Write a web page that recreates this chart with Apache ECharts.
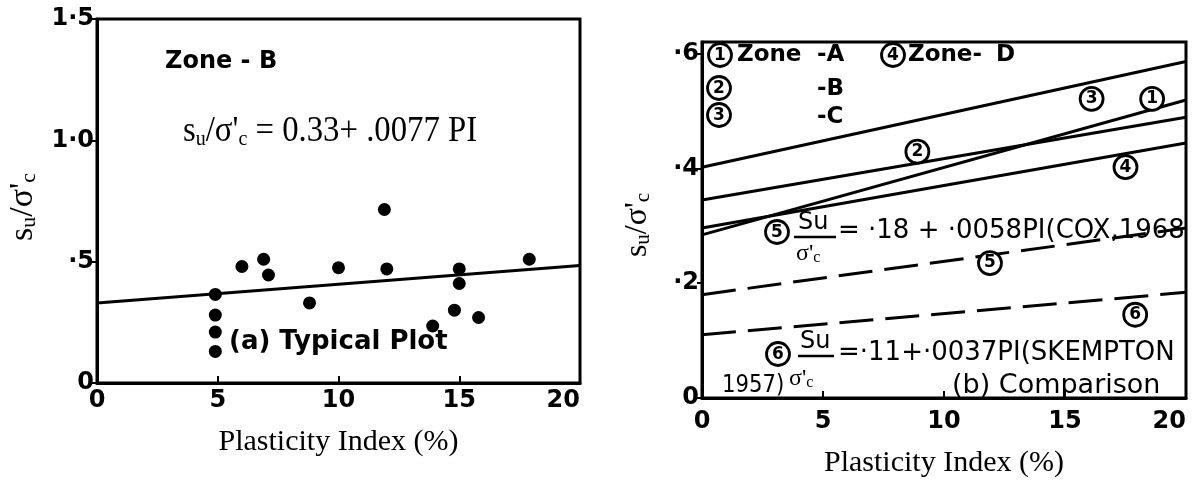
<!DOCTYPE html>
<html>
<head>
<meta charset="utf-8">
<script src="https://cdn.jsdelivr.net/npm/echarts@6/dist/echarts.min.js"></script>
<style>
  html, body { margin: 0; padding: 0; background: #fff; }
  #c { width: 1195px; height: 490px; }
</style>
</head>
<body>
<div id="c"></div>
<script>
// (a) Zone-B field data: plasticity index (%) and su/σ'c
const zoneB_PI = [4.9, 4.9, 4.9, 4.9, 6.0, 6.9, 7.1, 8.8, 10.0, 12.0, 11.9, 15.0, 15.0, 14.8, 13.9, 15.8, 17.9];
const zoneB_su = [0.365, 0.28, 0.21, 0.13, 0.48, 0.51, 0.445, 0.33, 0.475, 0.47, 0.715, 0.47, 0.41, 0.30, 0.235, 0.27, 0.51];

// end points of every straight line, at PI = 0 and PI = 20
const lineEndsPI = [0, 20];
const fitZoneB = [0.33, 0.484];        // su/σ'c = 0.33 + .0077 PI
// (b) comparison lines
const zoneA = [0.284, 0.519];
const zoneB = [0.345, 0.489];
const zoneC = [0.402, 0.586];
const zoneD = [0.296, 0.444];
const cox1968 = [0.18, 0.296];         // .18 + .0058 PI
const skempton1957 = [0.11, 0.184];    // .11 + .0037 PI

// tick labels
const leftYTickLabels = { '0.0': '0', '0.5': '·5', '1.0': '1·0', '1.5': '1·5' };
const rightYTickLabels = { '0.0': '0', '0.2': '·2', '0.4': '·4', '0.6': '·6' };

// numbered tags beside the comparison lines: [PI, su/σ'c, number]
const lineTags = [
  [18.6, 0.521, '1'],
  [16.1, 0.521, '3'],
  [8.9, 0.429, '2'],
  [17.5, 0.402, '4'],
  [11.9, 0.235, '5'],
  [17.9, 0.145, '6']
];

const BLACK = '#000';
const LETTER = '"DejaVu Sans", "Liberation Sans", sans-serif';
const SERIF = '"Liberation Serif", "DejaVu Serif", serif';

function pairs(xs, ys) { return xs.map((x, i) => [x, ys[i]]); }

function xAxisFor(grid, labelMargin, nameGap) {
  return {
    gridIndex: grid, type: 'value', min: 0, max: 20, interval: 5,
    axisLine: { show: true, lineStyle: { color: BLACK, width: 3 } },
    axisTick: { show: true, inside: true, length: 7, lineStyle: { color: BLACK, width: 2 } },
    splitLine: { show: false },
    axisLabel: { color: BLACK, fontFamily: LETTER, fontWeight: 'bold', fontSize: 24, margin: labelMargin, alignMaxLabel: 'right' },
    name: 'Plasticity Index (%)', nameLocation: 'middle', nameGap: nameGap,
    nameTextStyle: { color: BLACK, fontFamily: SERIF, fontSize: 30 }
  };
}

function yAxisFor(grid, max, interval, labels) {
  return {
    gridIndex: grid, type: 'value', min: 0, max: max, interval: interval,
    axisLine: { show: true, lineStyle: { color: BLACK, width: 3 } },
    axisTick: { show: true, inside: false, length: 5, lineStyle: { color: BLACK, width: 2 } },
    splitLine: { show: false },
    axisLabel: {
      color: BLACK, fontFamily: LETTER, fontWeight: 'bold', fontSize: 24, margin: 3,
      formatter: v => labels[v.toFixed(1)] || ''
    }
  };
}

function straight(xi, yi, ys, dashed) {
  return {
    type: 'line', xAxisIndex: xi, yAxisIndex: yi, data: pairs(lineEndsPI, ys),
    symbol: 'none', silent: true,
    lineStyle: { color: BLACK, width: 3, type: dashed ? [34, 12] : 'solid' }
  };
}

function txt(x, y, text, font, extra) {
  return Object.assign({
    type: 'text', x: x, y: y, silent: true,
    style: { text: text, font: font, fill: BLACK, align: 'left', verticalAlign: 'middle' }
  }, extra || {});
}

// a digit inside a hand-drawn style ring
function ring(x, y, digit) {
  return {
    type: 'group', x: x, y: y, silent: true,
    children: [
      { type: 'circle', shape: { cx: 0, cy: 0, r: 11.5 }, style: { fill: '#fff', stroke: BLACK, lineWidth: 2.8 } },
      { type: 'text', x: 0, y: 1, style: { text: digit, font: 'bold 17px ' + LETTER, fill: BLACK, align: 'center', verticalAlign: 'middle' } }
    ]
  };
}

function bar(x1, x2, y) {
  return { type: 'line', silent: true, shape: { x1: x1, y1: y, x2: x2, y2: y }, style: { stroke: BLACK, lineWidth: 2.5 } };
}

// su / σ'c written with subscripts
function suOverSigma(main, sub) {
  return {
    text: '{m|s}{u|u}{m|/σ\'}{u|c}',
    rich: {
      m: { fontFamily: SERIF, fontSize: main, lineHeight: main + 4, verticalAlign: 'bottom', fill: BLACK },
      u: { fontFamily: SERIF, fontSize: sub, lineHeight: sub, verticalAlign: 'bottom', fill: BLACK }
    }
  };
}

function sigmaC(x, y) {
  return {
    type: 'text', x: x, y: y, silent: true,
    style: {
      text: '{g|σ\'}{c|c}', align: 'left', verticalAlign: 'middle',
      rich: {
        g: { fontFamily: SERIF, fontSize: 24, lineHeight: 26, verticalAlign: 'bottom', fill: BLACK },
        c: { fontFamily: SERIF, fontSize: 16, lineHeight: 16, verticalAlign: 'bottom', fill: BLACK }
      }
    }
  };
}

const KEY = 'bold 23px ' + LETTER;

const graphics = [
  // y-axis titles
  { type: 'text', x: 21, y: 207, rotation: Math.PI / 2, silent: true,
    style: Object.assign({ align: 'center', verticalAlign: 'middle' }, suOverSigma(34, 22)) },
  { type: 'text', x: 636, y: 225, rotation: Math.PI / 2, silent: true,
    style: Object.assign({ align: 'center', verticalAlign: 'middle' }, suOverSigma(32, 21)) },

  // (a) typical plot
  txt(165, 62, 'Zone - B', 'bold 24px ' + LETTER),
  { type: 'text', x: 183, y: 130, scaleX: 0.91, silent: true,
    style: {
      text: '{m|s}{u|u}{m|/σ\'}{u|c}{m| = 0.33+ .0077 PI}', align: 'left', verticalAlign: 'middle',
      rich: {
        m: { fontFamily: SERIF, fontSize: 36, lineHeight: 40, verticalAlign: 'bottom', fill: BLACK },
        u: { fontFamily: SERIF, fontSize: 22, lineHeight: 22, verticalAlign: 'bottom', fill: BLACK }
      }
    } },
  txt(229, 342, '(a) Typical Plot', 'bold 26px ' + LETTER),

  // (b) comparison: zone key
  ring(720, 55, '1'), txt(737, 55, 'Zone', KEY), txt(817, 55, '-A', KEY),
  ring(893, 55, '4'), txt(908, 55, 'Zone-', KEY), txt(996, 55, 'D', KEY),
  ring(719, 88, '2'), txt(817, 89, '-B', KEY),
  ring(719, 115, '3'), txt(817, 117, '-C', KEY),

  // Cox (1968)
  ring(777, 232, '5'),
  txt(798, 223, 'Su', '24px ' + LETTER),
  bar(794, 836, 237),
  sigmaC(796, 253),
  txt(838, 231, '= ·18 + ·0058PI(COX,1968', '26px ' + LETTER),

  // Skempton (1957)
  ring(778, 354, '6'),
  txt(800, 342, 'Su', '24px ' + LETTER),
  bar(798, 834, 356),
  txt(838, 353, '=·11+·0037PI(SKEMPTON', '26px ' + LETTER),
  txt(722, 385, '1957)', '25px ' + LETTER, { scaleX: 0.85 }),
  sigmaC(789, 378),
  txt(952, 386, '(b) Comparison', '27px ' + LETTER)
];

const chart = echarts.init(document.getElementById('c'), null, { renderer: 'canvas' });
chart.setOption({
  animation: false,
  backgroundColor: '#fff',
  grid: [
    { left: 97, top: 19, width: 483, height: 364, show: true, borderColor: BLACK, borderWidth: 3, backgroundColor: 'transparent' },
    { left: 702, top: 42, width: 484, height: 356, show: true, borderColor: BLACK, borderWidth: 3, backgroundColor: 'transparent' }
  ],
  xAxis: [xAxisFor(0, 6, 44), xAxisFor(1, 12, 50)],
  yAxis: [yAxisFor(0, 1.5, 0.5, leftYTickLabels), yAxisFor(1, 0.62, 0.2, rightYTickLabels)],
  series: [
    {
      type: 'scatter', xAxisIndex: 0, yAxisIndex: 0, silent: true,
      data: pairs(zoneB_PI, zoneB_su), symbolSize: 13, itemStyle: { color: BLACK, opacity: 1 }
    },
    straight(0, 0, fitZoneB, false),
    straight(1, 1, zoneA, false),
    straight(1, 1, zoneB, false),
    straight(1, 1, zoneC, false),
    straight(1, 1, zoneD, false),
    straight(1, 1, cox1968, true),
    straight(1, 1, skempton1957, true),
    {
      type: 'scatter', xAxisIndex: 1, yAxisIndex: 1, silent: true, z: 5,
      data: lineTags, symbol: 'circle', symbolSize: 23,
      itemStyle: { color: '#fff', borderColor: BLACK, borderWidth: 2.8, opacity: 1 },
      label: {
        show: true, position: 'inside', formatter: p => p.data[2],
        fontFamily: LETTER, fontWeight: 'bold', fontSize: 17, color: BLACK
      }
    }
  ],
  graphic: graphics
});
</script>
</body>
</html>
